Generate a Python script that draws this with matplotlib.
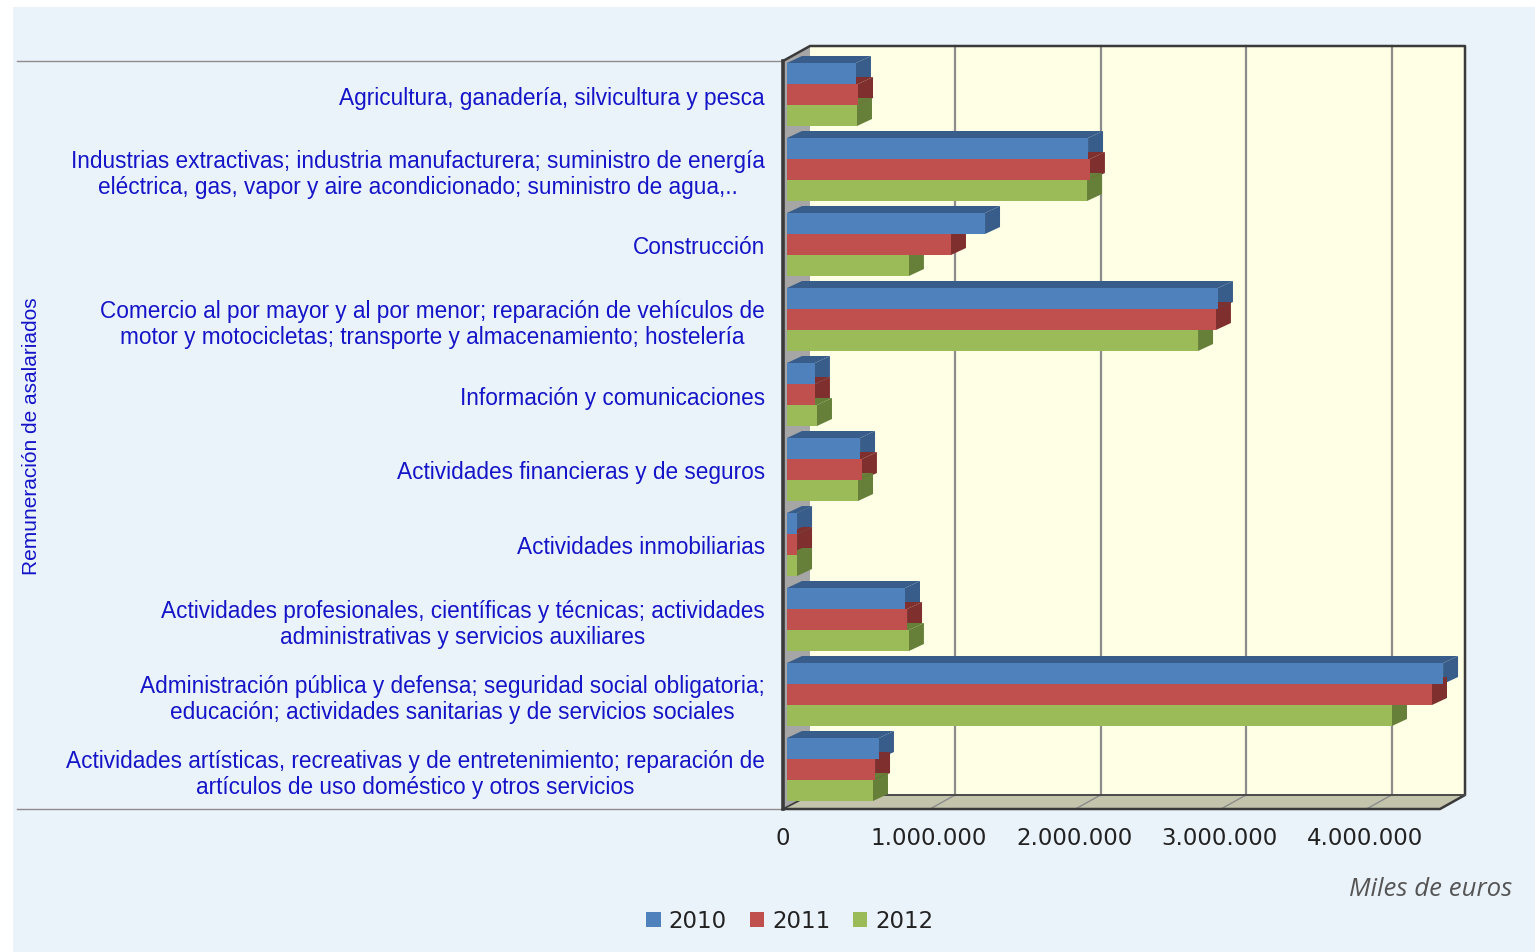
import matplotlib
matplotlib.use("Agg")
import matplotlib.pyplot as plt
from matplotlib.patches import Polygon, Patch, Rectangle
from matplotlib.transforms import ScaledTranslation

# sectores, de arriba abajo
categorias = [
    "Agricultura, ganadería, silvicultura y pesca",
    "Industrias extractivas; industria manufacturera; suministro de energía\neléctrica, gas, vapor y aire acondicionado; suministro de agua,..",
    "Construcción",
    "Comercio al por mayor y al por menor; reparación de vehículos de\nmotor y motocicletas; transporte y almacenamiento; hostelería",
    "Información y comunicaciones",
    "Actividades financieras y de seguros",
    "Actividades inmobiliarias",
    "Actividades profesionales, científicas y técnicas; actividades\nadministrativas y servicios auxiliares",
    "Administración pública y defensa; seguridad social obligatoria;\neducación; actividades sanitarias y de servicios sociales",
    "Actividades artísticas, recreativas y de entretenimiento; reparación de\nartículos de uso doméstico y otros servicios",
]
# miles de euros
v2010 = [474000, 2069000, 1361000, 2962000, 192000, 502000, 69000, 811000, 4509000, 632000]
v2011 = [488000, 2082000, 1127000, 2948000, 192000, 515000, 69000, 825000, 4433000, 605000]
v2012 = [481000, 2062000, 838000, 2825000, 206000, 488000, 69000, 838000, 4158000, 591000]
anios = ["2010", "2011", "2012"]
ticks_x = [0, 1000000, 2000000, 3000000, 4000000]
ticks_txt = ["0", "1.000.000", "2.000.000", "3.000.000", "4.000.000"]

AZUL = ("#4F81BD", "#385D8A")
ROJO = ("#C0504D", "#7F302E")
VERDE = ("#9BBB59", "#66803A")
FONDO = "#EBF3FA"
TXT_AZUL = "#1414C8"
W, H = 1535, 952
PX_M = 145.5  # pixeles por millon

fig = plt.figure(figsize=(W / 100, H / 100), dpi=100, facecolor="white")

# capa de fondo en pixeles: paredes de la caja 3D
bg = fig.add_axes([0, 0, 1, 1], zorder=0)
bg.set_xlim(0, W)
bg.set_ylim(H, 0)
bg.axis("off")
bg.add_patch(Rectangle((13, 7), W - 13, H - 7, color=FONDO, lw=0))
bg.add_patch(Polygon([(810, 46), (1465, 46), (1465, 795), (810, 795)], color="#FFFFE6", lw=0))
bg.add_patch(Polygon([(783, 61), (810, 46), (810, 795), (783, 809)], color="#A6A6A6", lw=0))
bg.add_patch(Polygon([(783, 809), (810, 795), (1465, 795), (1440, 809)], color="#C4C4AC", lw=0))
for t in ticks_x[1:]:
    xb = 809.5 + PX_M * t / 1e6
    bg.plot([xb, xb], [46, 795], color="#8C8C8C", lw=1.6)
    bg.plot([xb, xb - 25], [795, 809], color="#8C8C8C", lw=1)
bg.plot([17, 783], [61, 61], color="#8C8C8C", lw=1)
bg.plot([17, 783], [809, 809], color="#8C8C8C", lw=1)
bg.plot([783, 810, 1465, 1465, 1440, 783], [61, 46, 46, 795, 809, 809], color="#3A3A3A", lw=1.8)
bg.plot([810, 1465], [795, 795], color="#4A4A4A", lw=1.4)
bg.plot([783, 783], [61, 809], color="#3A3A3A", lw=2.6)
bg.plot([783, 810], [809, 795], color="#3A3A3A", lw=1.2)

# ejes de datos: x=0 en 787 px, cada categoria 75 px
ax = fig.add_axes([787 / W, 1 - 807 / H, 660 / W, 750 / H], zorder=1)
ax.patch.set_visible(False)
ax.set_xlim(0, 660 / PX_M * 1e6)
ax.set_ylim(9.5, -0.5)
for s in ax.spines.values():
    s.set_visible(False)

alto = 21 / 75
dx = 15 / PX_M * 1e6
dy = 7 / 75


def barra(v, yc, colores):
    y0, y1 = yc - alto / 2, yc + alto / 2
    ax.barh(yc, v, height=alto, color=colores[0], lw=0, zorder=3)
    ax.add_patch(Polygon([(0, y0), (v, y0), (v + dx, y0 - dy), (dx, y0 - dy)],
                         color=colores[1], lw=0, zorder=2, clip_on=False))
    ax.add_patch(Polygon([(v, y0), (v + dx, y0 - dy), (v + dx, y1 - dy), (v, y1)],
                         color=colores[1], lw=0, zorder=2, clip_on=False))


for i in range(len(categorias)):
    barra(v2010[i], i - alto, AZUL)
    barra(v2011[i], i, ROJO)
    barra(v2012[i], i + alto, VERDE)

ax.set_yticks(range(len(categorias)))
ax.set_yticklabels(categorias, fontfamily="Liberation Sans", fontsize=16.3, color=TXT_AZUL,
                   ma="center", linespacing=1.16)
ax.tick_params(axis="y", length=0, pad=16)
ax.set_xticks(ticks_x)
ax.set_xticklabels(ticks_txt, fontfamily="DejaVu Sans", fontsize=16.5, color="#222222")
ax.tick_params(axis="x", length=0, pad=14.5)
# los textos no caen justo en su marca: la caja 3D los desplaza un poco
desp = ScaledTranslation(-4 / 100, 0, fig.dpi_scale_trans)
for lab in ax.get_xticklabels():
    lab.set_transform(lab.get_transform() + desp)
desp_y = ScaledTranslation(0, -1 / 100, fig.dpi_scale_trans)
for lab in ax.get_yticklabels():
    lab.set_transform(lab.get_transform() + desp_y)

fig.text(32 / W, 1 - 436 / H, "Remuneración de asalariados", rotation=90, ha="center", va="center",
         fontfamily="Liberation Sans", fontsize=15, color=TXT_AZUL)
fig.text(1512 / W, 1 - 890 / H, "Miles de euros", ha="right", va="center", style="italic",
         fontfamily="Open Sans", fontsize=18.5, color="#555555")

handles = [Patch(color=AZUL[0], lw=0), Patch(color=ROJO[0], lw=0), Patch(color=VERDE[0], lw=0)]
fig.legend(handles, anios, loc="center", bbox_to_anchor=(790 / W, 1 - 921 / H), ncol=3, frameon=False,
           prop={"family": "DejaVu Sans", "size": 16.5}, labelcolor="#222222",
           handlelength=0.62, handleheight=0.62, handletextpad=0.35, columnspacing=1.0,
           borderpad=0, borderaxespad=0)

fig.savefig("out.png", dpi=100, facecolor=fig.get_facecolor())
